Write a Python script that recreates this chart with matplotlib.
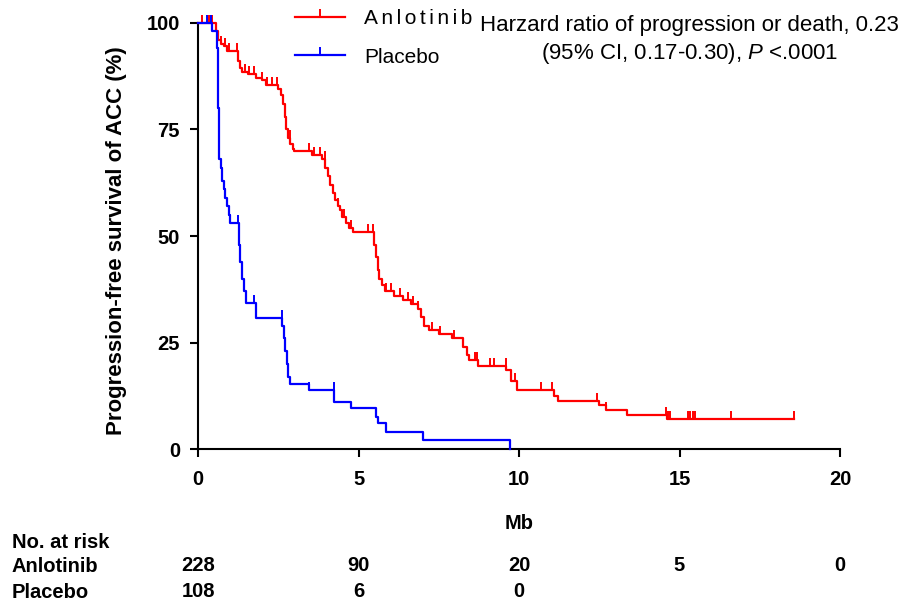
import numpy as np
import matplotlib.pyplot as plt
from matplotlib.path import Path
from matplotlib.lines import Line2D

plt.rcParams.update({'font.family': ['Liberation Sans', 'DejaVu Sans'],
                     'mathtext.fontset': 'custom',
                     'mathtext.rm': 'Liberation Sans',
                     'mathtext.it': 'Liberation Sans:italic'})

# Anlotinib: times where the curve steps, and survival (%) after each step
anlo_t = [0, 0.55, 0.62, 0.7, 0.8, 0.9, 1.25, 1.32, 1.38, 1.55, 1.8, 2.0, 2.13,
          2.5, 2.6, 2.65, 2.7, 2.75, 2.8, 2.88, 2.95, 3.0, 3.55, 3.85, 3.97,
          4.05, 4.12, 4.2, 4.28, 4.35, 4.42, 4.5, 4.6, 4.7, 4.83, 5.47, 5.55,
          5.6, 5.65, 5.72, 5.82, 6.1, 6.4, 6.65, 6.85, 6.95, 7.05, 7.2, 7.5,
          7.9, 8.27, 8.38, 8.45, 8.73, 9.6, 9.75, 9.95, 11.1, 11.2, 12.5, 12.7,
          13.35, 14.6]
anlo_s = [100, 98, 96, 95, 94.5, 93.5, 91, 89.5, 88.5, 88, 87, 86.5, 85.3,
          84.5, 83, 81, 78, 75, 73, 71.5, 70.5, 70, 69, 68, 66,
          64, 62, 60, 58.5, 57, 56, 54.5, 53, 52, 51, 48, 45,
          42, 40, 38.5, 37, 36, 35, 34, 33, 31, 29, 28, 27,
          26, 24, 22, 21, 19.5, 18.5, 16, 14, 12.5, 11.3, 10.3, 9.2,
          8.0, 7.0]
anlo_end = 18.58
anlo_cens = [0.13, 0.35, 0.44, 0.7, 0.85, 0.95, 1.22, 1.45, 1.6, 1.75, 2.0, 2.15,
             2.3, 2.45, 2.7, 2.85, 3.47, 3.62, 3.8, 3.94, 4.2, 4.35, 4.55, 4.75,
             5.3, 5.45, 5.85, 6.0, 6.3, 6.55, 6.7, 6.85, 7.05, 7.3, 7.55, 7.96,
             8.27, 8.64, 8.69, 9.09, 9.22, 9.58, 9.89, 10.69, 11.03, 12.44, 12.7,
             14.59, 14.64, 14.69, 15.26, 15.34, 15.42, 15.49, 16.59, 18.58]

# Placebo
plac_t = [0, 0.45, 0.58, 0.62, 0.66, 0.7, 0.75, 0.8, 0.85, 0.9, 0.95, 1.0,
          1.28, 1.32, 1.36, 1.42, 1.48, 1.8, 2.63, 2.68, 2.72, 2.76, 2.8, 2.85,
          3.45, 4.25, 4.75, 5.55, 5.6, 5.85, 7.02, 9.73]
plac_s = [100, 98, 94, 80, 68, 66, 63, 61, 59, 57, 55, 53,
          48, 44, 40, 37, 34.3, 30.8, 29, 26, 23, 20, 17, 15.2,
          13.9, 11.1, 9.7, 7.5, 6.1, 4.1, 2.1, 0]
plac_end = 9.73
plac_cens = [0.28, 0.41, 1.26, 1.75, 2.62, 3.45, 4.23]

risk_times = [0, 5, 10, 15, 20]
risk_anlo = ['228', '90', '20', '5', '0']
risk_plac = ['108', '6', '0']

RED = '#ff0000'
BLUE = '#0000ff'
tick_mark = Path([(0, 0), (0, 1)])  # censor tick pointing up


def surv_at(t_steps, s_steps, t):
    idx = np.searchsorted(t_steps, t, side='right') - 1
    return np.asarray(s_steps)[idx]


fig = plt.figure(figsize=(9.01, 6.03), dpi=100)
ax = fig.add_axes([0.2198, 0.2549, 0.7125, 0.7073])

for t, s, end, cens, col in [(anlo_t, anlo_s, anlo_end, anlo_cens, RED),
                             (plac_t, plac_s, plac_end, plac_cens, BLUE)]:
    ax.step(t + [end], s + [s[-1]], where='post', color=col, lw=1.6, clip_on=False, zorder=3)
    ax.plot(cens, surv_at(t, s, cens), ls='none', marker=tick_mark, ms=11,
            mec=col, mew=1.4, clip_on=False, zorder=3)

ax.set_xlim(0, 20)
ax.set_ylim(0, 100)
ax.set_xticks(risk_times)
ax.set_yticks([0, 25, 50, 75, 100])
for sp in ['top', 'right']:
    ax.spines[sp].set_visible(False)
for sp in ['left', 'bottom']:
    ax.spines[sp].set_linewidth(1.5)
ax.tick_params(length=6, width=1.5)
ax.tick_params(axis='y', pad=7)
ax.tick_params(axis='x', pad=9)
for lab in ax.get_yticklabels():
    lab.set_fontsize(14.5)
    lab.set_fontweight('bold')
narrow = ['Liberation Sans Narrow', 'Liberation Sans']
for lab in ax.get_xticklabels():
    lab.set_family(narrow)
    lab.set_fontsize(14.5)
    lab.set_fontweight('bold')

ax.set_ylabel('Progression-free survival of ACC (%)', fontsize=16, fontweight='bold')
ax.yaxis.set_label_coords(-0.11, 0.49)
ax.set_xlabel('Mb', fontsize=14.5, fontweight='bold', family=narrow)
ax.xaxis.set_label_coords(0.5, -0.152)

# legend
handles = [Line2D([], [], color=RED, lw=1.6, marker=tick_mark, ms=11, mew=1.4),
           Line2D([], [], color=BLUE, lw=1.6, marker=tick_mark, ms=11, mew=1.4)]
ax.legend(handles, ['\u2006'.join('Anlotinib'), 'Placebo'], loc='upper left',
          bbox_to_anchor=(295 / 901, 1 - 9 / 603), bbox_transform=fig.transFigure,
          frameon=False, fontsize=15, handlelength=2.4, handletextpad=0.9,
          labelspacing=0.95, borderpad=0, borderaxespad=0)

fig.text(480 / 901, 1 - 25 / 603, 'Harzard ratio of progression or death, 0.23',
         fontsize=16, ha='left', va='center')
fig.text(690 / 901, 1 - 53 / 603, '(95% CI, 0.17-0.30), $\\it{P}$ <.0001',
         fontsize=16, ha='center', va='center')

# number at risk table
fig.text(12 / 901, 1 - 542 / 603, 'No. at risk', fontsize=14.5, fontweight='bold',
         family=narrow, va='center')
fig.text(12 / 901, 1 - 566 / 603, 'Anlotinib', fontsize=14.5, fontweight='bold',
         family=narrow, va='center')
fig.text(12 / 901, 1 - 592 / 603, 'Placebo', fontsize=14.5, fontweight='bold',
         family=narrow, va='center')
row_anlo = (449.3 - 566) / 426.5
row_plac = (449.3 - 592) / 426.5
trans = ax.get_xaxis_transform()
for x, n in zip(risk_times, risk_anlo):
    ax.text(x, row_anlo, n, transform=trans, ha='center', va='center', fontsize=14.5,
            fontweight='bold', family=narrow, clip_on=False)
for x, n in zip(risk_times, risk_plac):
    ax.text(x, row_plac, n, transform=trans, ha='center', va='center', fontsize=14.5,
            fontweight='bold', family=narrow, clip_on=False)

fig.savefig('out.png', dpi=100)
